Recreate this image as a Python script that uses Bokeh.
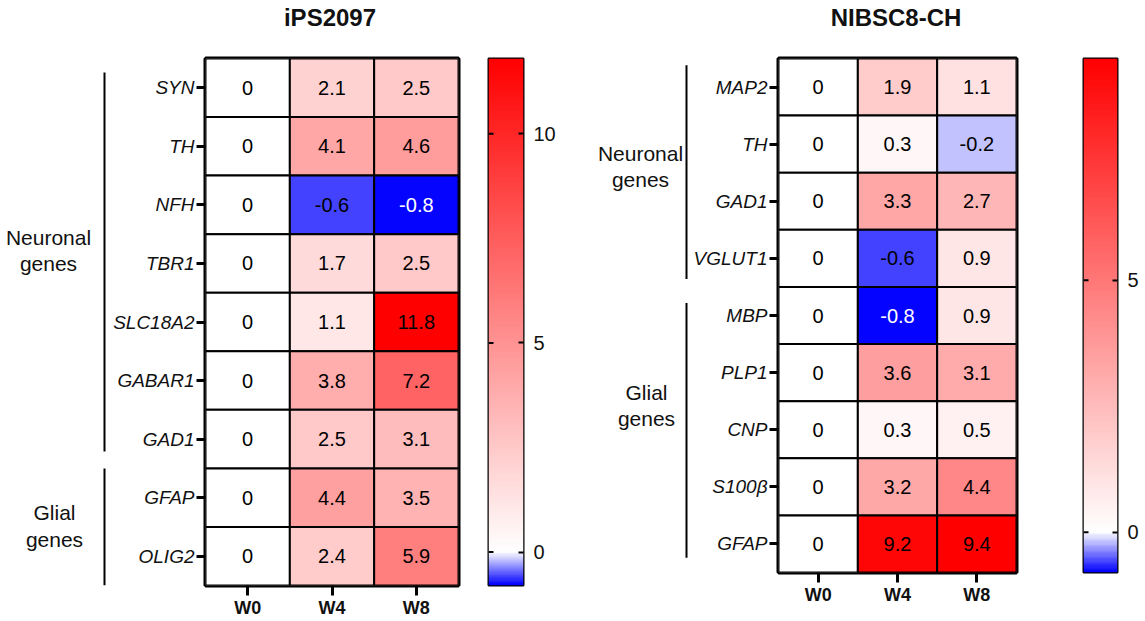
import numpy as np
from bokeh.plotting import figure
from bokeh.models import FactorRange, Range1d, LinearColorMapper, ColumnDataSource, FixedTicker, Div
from bokeh.layouts import row, column
from bokeh.embed import file_html
from bokeh.resources import INLINE
from bokeh.core.properties import value

FONT = "Liberation Sans"

# ---------------- data ----------------
weeks = ["W0", "W4", "W8"]

title_a = "iPS2097"
genes_a = ["SYN", "TH", "NFH", "TBR1", "SLC18A2", "GABAR1", "GAD1", "GFAP", "OLIG2"]
w0_a = [0, 0, 0, 0, 0, 0, 0, 0, 0]
w4_a = [2.1, 4.1, -0.6, 1.7, 1.1, 3.8, 2.5, 4.4, 2.4]
w8_a = [2.5, 4.6, -0.8, 2.5, 11.8, 7.2, 3.1, 3.5, 5.9]
group_labels_a = ["Neuronal\ngenes", "Glial\ngenes"]
group_sizes_a = [7, 2]
cbar_ticks_a = [0, 5, 10]

title_b = "NIBSC8-CH"
genes_b = ["MAP2", "TH", "GAD1", "VGLUT1", "MBP", "PLP1", "CNP", "S100\u03b2", "GFAP"]
w0_b = [0, 0, 0, 0, 0, 0, 0, 0, 0]
w4_b = [1.9, 0.3, 3.3, -0.6, -0.8, 3.6, 0.3, 3.2, 9.2]
w8_b = [1.1, -0.2, 2.7, 0.9, 0.9, 3.1, 0.5, 4.4, 9.4]
group_labels_b = ["Neuronal\ngenes", "Glial\ngenes"]
group_sizes_b = [4, 5]
cbar_ticks_b = [0, 5]

TITLE_H = 35
TOP, BOTTOM = 23, 36
H_A, H_B = 586, 573


def make_palette(lo, hi, n=512):
    cols = []
    for k in range(n):
        v = lo + (k + 0.5) * (hi - lo) / n
        if v < 0:
            t = min(v / lo, 1.0)
            c = int(round(255 * (1 - t)))
            cols.append("#%02x%02x%02x" % (c, c, 255))
        else:
            t = min(v / hi, 1.0)
            c = int(round(255 * (1 - t)))
            cols.append("#%02x%02x%02x" % (255, c, c))
    return cols


def fmt(v):
    return "%g" % v


def heat(genes, cols, left_b, height, frame_w, mapper):
    lo = mapper.low
    ys = list(reversed(genes))
    xs, yv, vs = [], [], []
    for w, vals in zip(weeks, cols):
        for g, v in zip(genes, vals):
            xs.append(w)
            yv.append(g)
            vs.append(v)
    tc = ["white" if (v < 0 and v / lo > 0.9) else "black" for v in vs]
    src = ColumnDataSource(dict(x=xs, y=yv, v=vs, label=[fmt(v) for v in vs], tc=tc))
    p = figure(x_range=FactorRange(*weeks), y_range=FactorRange(*ys),
               width=left_b + frame_w + 3, height=height, output_backend="svg",
               toolbar_location=None, min_border_left=left_b, min_border_right=3,
               min_border_top=TOP, min_border_bottom=BOTTOM)
    p.rect(x="x", y="y", width=1, height=1, source=src,
           fill_color={"field": "v", "transform": mapper}, line_color="black", line_width=2)
    p.text(x="x", y="y", text="label", source=src, text_align="center", text_baseline="middle",
           text_font=value(FONT), text_font_size="20px", text_color="tc")
    p.grid.visible = False
    p.outline_line_color = "black"
    p.outline_line_width = 4
    p.outline_line_alpha = 1
    p.axis.axis_line_color = None
    p.axis.minor_tick_line_color = None
    p.axis.major_tick_in = 0
    p.axis.major_tick_line_width = 3
    p.axis.major_tick_line_color = "black"
    p.axis.major_label_text_font = FONT
    p.axis.major_label_text_color = "#111111"
    p.yaxis.major_tick_out = 9
    p.yaxis.major_label_standoff = 2
    p.yaxis.major_label_text_font_size = "19px"
    p.yaxis.major_label_text_font_style = "italic"
    p.xaxis.major_tick_out = 10
    p.xaxis.major_label_standoff = 2
    p.xaxis.major_label_text_font_size = "18px"
    p.xaxis.major_label_text_font_style = "bold"
    p.background_fill_color = "white"
    p.border_fill_color = "white"
    return p


def group_fig(width, height, nrows, sizes, labels, bracket_x, text_x, insets, dys):
    p = figure(x_range=Range1d(0, width), y_range=Range1d(0, nrows), width=width, height=height,
               output_backend="svg", toolbar_location=None, min_border_left=0,
               min_border_right=0, min_border_top=TOP, min_border_bottom=BOTTOM,
               x_axis_location=None, y_axis_location=None)
    p.grid.visible = False
    p.outline_line_color = None
    start = 0
    y0s, y1s, ym = [], [], []
    for n, (it, ib) in zip(sizes, insets):
        y0s.append(nrows - start - it)
        y1s.append(nrows - start - n + ib)
        ym.append(nrows - start - n / 2.0)
        start += n
    p.segment(x0=[bracket_x] * len(sizes), x1=[bracket_x] * len(sizes), y0=y0s, y1=y1s,
              line_color="black", line_width=2)
    src = ColumnDataSource(dict(x=text_x, y=ym, t=labels, dy=dys))
    p.text(x="x", y="y", text="t", source=src, y_offset="dy", text_align="center",
           text_baseline="middle", text_font=value(FONT), text_font_size="21px",
           text_color="#111111", text_line_height=1.15)
    return p


def cbar_fig(mapper, ticks, left_b, bar_w, right_b, height):
    lo, hi = mapper.low, mapper.high
    p = figure(x_range=Range1d(0, bar_w), y_range=Range1d(lo, hi), width=left_b + bar_w + right_b,
               height=height, output_backend="svg", toolbar_location=None,
               min_border_left=left_b, min_border_right=right_b, min_border_top=TOP,
               min_border_bottom=BOTTOM, x_axis_location=None, y_axis_location="right")
    grad = np.linspace(lo, hi, 600).reshape(-1, 1)
    p.image(image=[grad], x=0, y=lo, dw=bar_w, dh=hi - lo, color_mapper=mapper)
    # tick marks on the left edge of the bar
    p.segment(x0=[0] * len(ticks), x1=[5] * len(ticks), y0=ticks, y1=ticks,
              line_color="black", line_width=2)
    p.grid.visible = False
    p.outline_line_color = "black"
    p.outline_line_width = 2
    p.outline_line_alpha = 1
    ax = p.yaxis[0]
    ax.ticker = FixedTicker(ticks=ticks)
    ax.axis_line_color = None
    ax.minor_tick_line_color = None
    ax.major_tick_in = 5
    ax.major_tick_out = 0
    ax.major_tick_line_width = 2
    ax.major_label_standoff = 10
    ax.major_label_text_font = FONT
    ax.major_label_text_font_size = "20px"
    ax.major_label_text_color = "#111111"
    return p


lo_a, hi_a = min(w0_a + w4_a + w8_a), max(w0_a + w4_a + w8_a)
lo_b, hi_b = min(w0_b + w4_b + w8_b), max(w0_b + w4_b + w8_b)
map_a = LinearColorMapper(low=lo_a, high=hi_a, palette=make_palette(lo_a, hi_a))
map_b = LinearColorMapper(low=lo_b, high=hi_b, palette=make_palette(lo_b, hi_b))

gA = group_fig(110, H_A, len(genes_a), group_sizes_a, group_labels_a, 104, [48, 54],
               [(0.24, 0.29), (0.0, 0.0)], [-13, -1])
hA = heat(genes_a, [w0_a, w4_a, w8_a], 93, H_A, 255, map_a)
cA = cbar_fig(map_a, cbar_ticks_a, 27, 35, 44, H_A)

gB = group_fig(123, H_B, len(genes_b), group_sizes_b, group_labels_b, 119, [73, 79],
               [(0.12, 0.14), (0.28, 0.26)], [-6, -24])
hB = heat(genes_b, [w0_b, w4_b, w8_b], 87, H_B, 239, map_b)
cB = cbar_fig(map_b, cbar_ticks_b, 64, 34, 28, H_B)

# panel titles, centred over each heat-map grid (grid centres at 330 px and 896 px)
span = ('<span style="position:absolute;top:0;left:{l}px;width:{w}px;text-align:center;'
        'line-height:{h}px;font-family:\'Liberation Sans\';font-size:24px;font-weight:bold;'
        'color:#111111;">{t}</span>')
title_html = ('<div style="position:relative;width:1145px;height:%dpx;">' % TITLE_H
              + span.format(l=230, w=200, h=TITLE_H, t=title_a)
              + span.format(l=796, w=200, h=TITLE_H, t=title_b) + '</div>')
titles = Div(text=title_html, width=1145, height=TITLE_H, margin=(0, 0, 0, 0))

layout = column(titles, row(gA, hA, cA, gB, hB, cB))
open("out.html", "w").write(file_html(layout, INLINE))
